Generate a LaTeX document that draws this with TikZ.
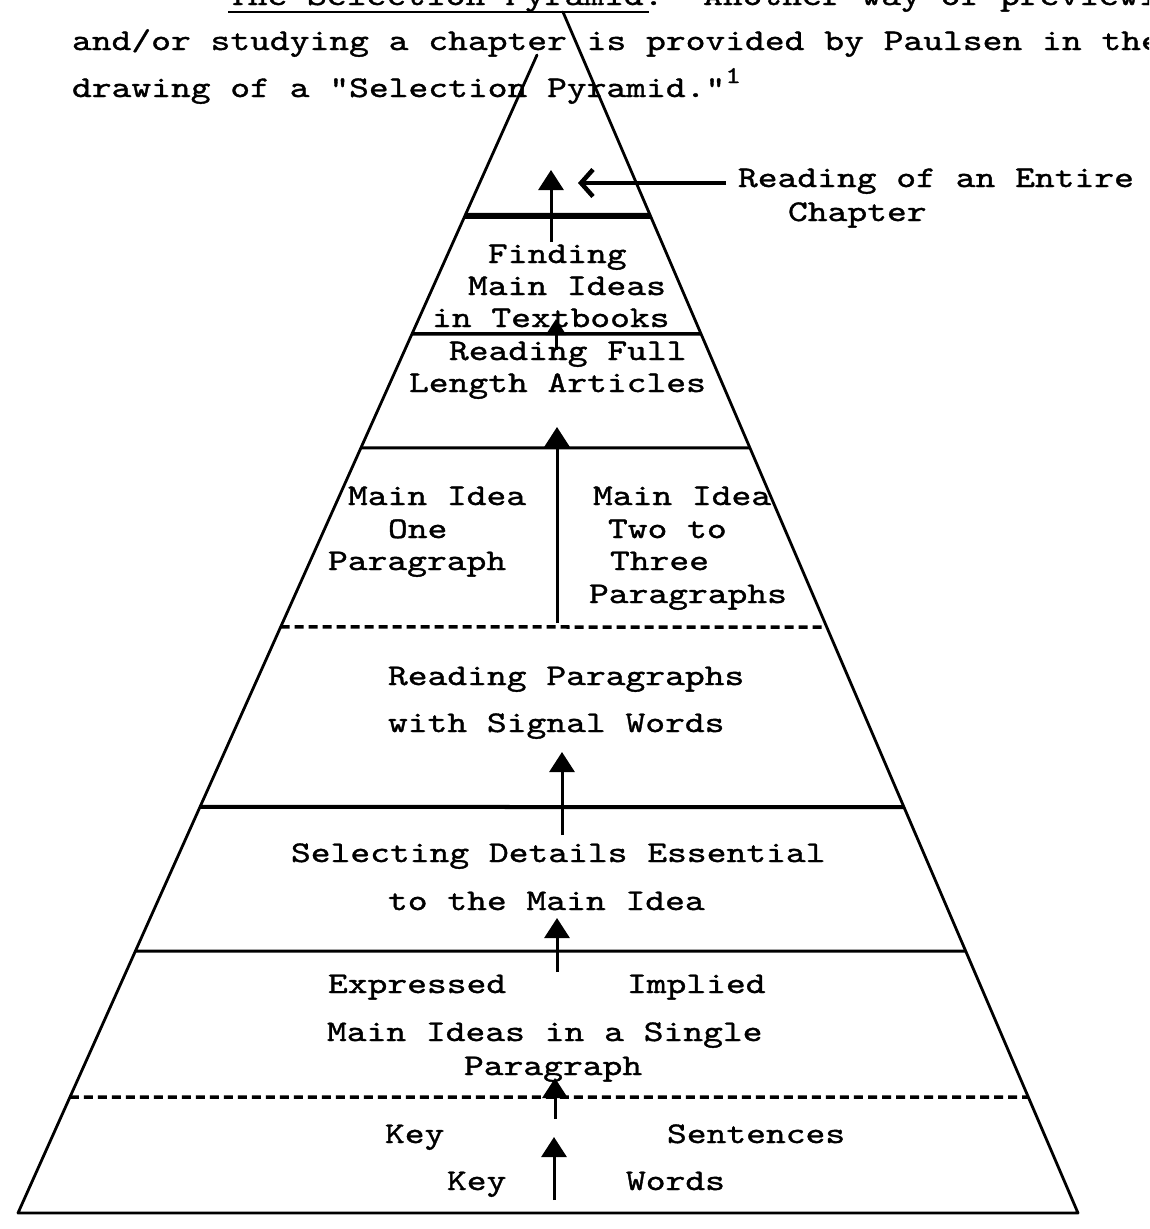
\documentclass[tikz,border=0pt]{standalone}
\usepackage{fontspec}
\newfontfamily\tw{lmmono10-regular.otf}[FakeStretch=1.257,FakeBold=1.2]
\usetikzlibrary{arrows.meta,calc}
\frenchspacing
\tikzset{
  txt/.style={font=\tw\fontsize{30}{36}\selectfont, anchor=base west, inner sep=0pt, outer sep=0pt},
  edge/.style={line width=2.8pt, line cap=round, line join=round},
  solidtier/.style={},
  dashtier/.style={dash pattern=on 9pt off 5pt},
  uparrow/.style={line width=3pt, -{Triangle[length=20pt,width=25pt]}},
  smallarrow/.style={line width=3pt, -{Triangle[length=16pt,width=20pt]}},
  pointer/.style={line width=4.5pt, -{Straight Barb[length=12pt,width=27pt,line width=4.5pt]}}
}
\begin{document}
\begin{tikzpicture}[x=1pt,y=-1pt]
\useasboundingbox (0,0) rectangle (1149,1229);
\fill[white] (0,0) rectangle (1149,1229);

% pyramid corners
\coordinate (Atop) at (563,12);
\coordinate (Ltop) at (537,55);
\coordinate (BL) at (18,1213);
\coordinate (BR) at (1078,1213);

% running text above the drawing
\begin{scope}
\clip (0,0) rectangle (1149,1229);
\node[txt] (intro1) at (228,5) {The Selection Pyramid.\ \ Another way of previewing};
\node[txt] (intro2) at (72,50) {and/or studying a chapter is provided by Paulsen in the};
\node[txt] (intro3) at (72,97) {drawing of a "Selection Pyramid."\raisebox{14pt}{\fontsize{24}{24}\selectfont 1}};
\end{scope}
\draw[line width=2pt] ([yshift=-7pt]intro1.base west) -- ++(421,0);

% outline of the pyramid
\draw[edge] (Ltop) -- (BL) -- (BR) -- (Atop);

% horizontal divisions
\foreach \yy/\lw/\st in {216/6/solidtier, 334/3.5/solidtier, 448/3/solidtier,
                         627/3.5/dashtier, 807/4/solidtier, 951/3/solidtier,
                         1097/3.5/dashtier}{
  \draw[\st, line width=\lw pt]
    ($(Ltop)!{(\yy-55)/1158}!(BL)$) -- ($(Atop)!{(\yy-12)/1201}!(BR)$);
}

% labels inside the pyramid
\node[txt] (find1) at (488,263) {Finding};
\node[txt] (find2) at (468,295) {Main Ideas};
\node[txt] (find3) at (432,327) {in Textbooks};
\node[txt] (full1) at (449,360) {Reading Full};
\node[txt] (full2) at (409,392) {Length Articles};
\node[txt] (oneA) at (348,505) {Main Idea};
\node[txt] (oneB) at (388,538) {One};
\node[txt] (oneC) at (328,570) {Paragraph};
\node[txt] (twoA) at (593,505) {Main Idea};
\node[txt] (twoB) at (608,538) {Two to};
\node[txt] (twoC) at (610,570) {Three};
\node[txt] (twoD) at (589,603) {Paragraphs};
\node[txt] (sig1) at (388,685) {Reading Paragraphs};
\node[txt] (sig2) at (388,732) {with Signal Words};
\node[txt] (det1) at (291,862) {Selecting Details Essential};
\node[txt] (det2) at (388,910) {to the Main Idea};
\node[txt] (expr) at (328,993) {Expressed};
\node[txt] (impl) at (627,993) {Implied};
\node[txt] (single1) at (327,1041) {Main Ideas in a Single};
\node[txt] (single2) at (464,1075) {Paragraph};
\node[txt] (keyA) at (385,1143) {Key};
\node[txt] (sent) at (667,1143) {Sentences};
\node[txt] (keyB) at (447,1190) {Key};
\node[txt] (words) at (626,1190) {Words};

% callout at the top
\node[txt] (entire1) at (738,187) {Reading of an Entire};
\node[txt] (entire2) at (788,221) {Chapter};

% arrows leading upward through the levels
\coordinate (u1t) at (551,242);  \coordinate (u1h) at (551,170);
\coordinate (u2t) at (556,350);  \coordinate (u2h) at (556,319);
\coordinate (u3t) at (557,623);  \coordinate (u3h) at (557,427);
\coordinate (u4t) at (562,835);  \coordinate (u4h) at (562,752);
\coordinate (u5t) at (557,972);  \coordinate (u5h) at (557,918);
\coordinate (u6t) at (555,1119); \coordinate (u6h) at (555,1078);
\coordinate (u7t) at (554,1200); \coordinate (u7h) at (554,1137);

\draw[uparrow] (u1t) -- (u1h);
\draw[smallarrow] (u2t) -- (u2h);
\draw[uparrow] (u3t) -- (u3h);
\draw[uparrow] (u4t) -- (u4h);
\draw[uparrow] (u5t) -- (u5h);
\draw[uparrow] (u6t) -- (u6h);
\draw[uparrow] (u7t) -- (u7h);

% pointer from the callout into the apex
\coordinate (ptail) at ([xshift=-12pt,yshift=4pt]entire1.base west);
\coordinate (phead) at (578,183);
\draw[pointer] (ptail) -- (phead);
\end{tikzpicture}
\end{document}
